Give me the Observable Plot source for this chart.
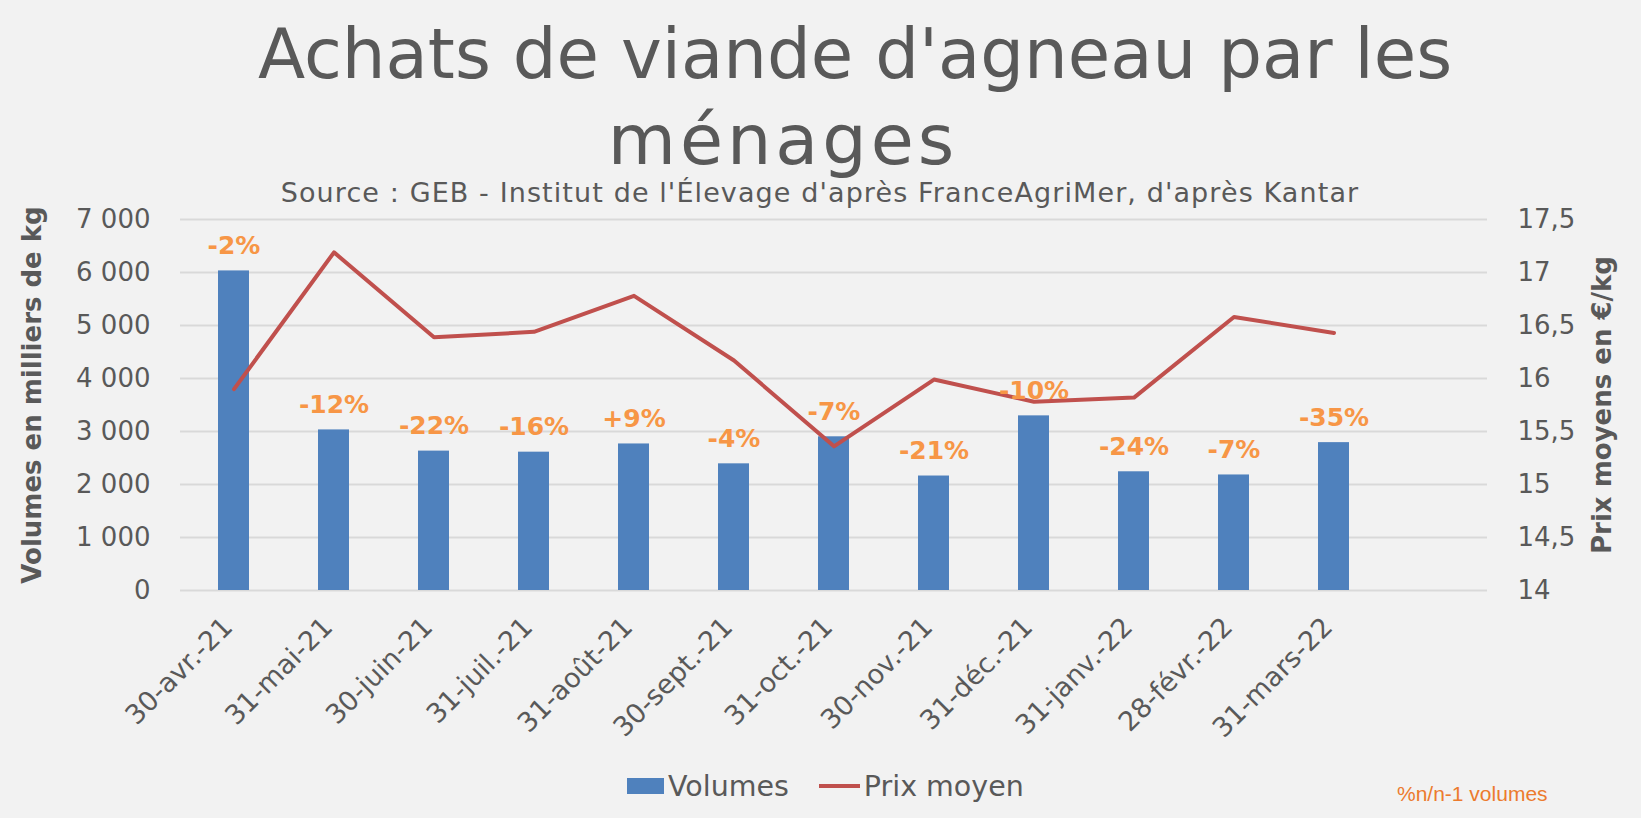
<!DOCTYPE html>
<html>
<head>
<meta charset="utf-8">
<script src="https://cdn.jsdelivr.net/npm/d3@7"></script>
<script src="https://cdn.jsdelivr.net/npm/@observablehq/plot@0.6"></script>
<style>
html, body { margin: 0; padding: 0; background: #f2f2f2; }
#wrap { position: relative; width: 1641px; height: 818px; overflow: hidden; background: #f2f2f2;
  font-family: "DejaVu Sans", sans-serif; color: #595959; }
.t { position: absolute; white-space: nowrap; line-height: 1; }
#title1 { left: 0; width: 1710px; top: 20px; text-align: center; font-size: 69px; }
#title2 { left: 0; width: 1566px; top: 105px; text-align: center; font-size: 70px; letter-spacing: 4px; }
#source { left: 0; width: 1640px; top: 179px; text-align: center; font-size: 27px; letter-spacing: 1.1px; }
.ytitle { position: absolute; white-space: nowrap; font-weight: bold; font-size: 26px; line-height: 1;
  transform: translate(-50%, -50%) rotate(-90deg); }
#chart { position: absolute; left: 0; top: 200px; }
#legend { position: absolute; left: 627px; top: 772px; height: 28px; display: flex; align-items: center; font-size: 28.5px; }
.sw-bar { width: 37px; height: 16px; background: #4F81BD; margin-right: 4px; }
.sw-line { width: 41px; height: 4px; background: #C0504D; margin-left: 30px; margin-right: 4px; }
#note { position: absolute; left: 1397px; top: 783px; font-family: "Liberation Sans Narrow", "Liberation Sans", sans-serif;
  font-size: 21px; color: #EC7B2E; }
</style>
</head>
<body>
<div id="wrap">
  <div class="t" id="title1">Achats de viande d'agneau par les</div>
  <div class="t" id="title2">ménages</div>
  <div class="t" id="source">Source : GEB - Institut de l'Élevage d'après FranceAgriMer, d'après Kantar</div>
  <div class="ytitle" style="left:32px; top:395px;">Volumes en milliers de kg</div>
  <div class="ytitle" style="left:1602px; top:405px;">Prix moyens en €/kg</div>
  <div id="chart"></div>
  <div id="legend"><div class="sw-bar"></div><span>Volumes</span><div class="sw-line"></div><span>Prix moyen</span></div>
  <div class="t" id="note">%n/n-1 volumes</div>
</div>
<script>
// ---- Data ----
const months = ["30-avr.-21", "31-mai-21", "30-juin-21", "31-juil.-21", "31-août-21", "30-sept.-21",
                "31-oct.-21", "30-nov.-21", "31-déc.-21", "31-janv.-22", "28-févr.-22", "31-mars-22"];
const volumes = [6030, 3030, 2630, 2610, 2765, 2390, 2900, 2160, 3295, 2240, 2180, 2790];
const prices = [15.90, 17.19, 16.39, 16.44, 16.78, 16.17, 15.36, 15.99, 15.78, 15.82, 16.58, 16.43];
const changes = ["-2%", "-12%", "-22%", "-16%", "+9%", "-4%", "-7%", "-21%", "-10%", "-24%", "-7%", "-35%"];
const volumeTicks = [0, 1000, 2000, 3000, 4000, 5000, 6000, 7000];
const priceTicks = [14, 14.5, 15, 15.5, 16, 16.5, 17, 17.5];

// ---- Build table ----
const data = months.map((m, i) => ({month: m, volume: volumes[i], price: prices[i], change: changes[i]}));

// Secondary axis mapping: price 14..17.5 onto volume 0..7000
const pMin = 14, pMax = 17.5, vMax = 7000;
const toVol = p => (p - pMin) / (pMax - pMin) * vMax;
const fromVol = v => pMin + v / vMax * (pMax - pMin);

const fmtVol = d => d3.format(",")(d).replace(/,/g, " ");
const fmtPrice = v => String(Math.round(fromVol(v) * 10) / 10).replace(".", ",");

const chart = Plot.plot({
  width: 1641,
  height: 560,
  marginTop: 19,
  marginBottom: 170,
  marginLeft: 180,
  marginRight: 154,
  style: {background: "transparent", fontFamily: "DejaVu Sans, sans-serif", color: "#595959", fontSize: "26px"},
  x: {type: "band", domain: [...months, ""], paddingInner: 0.69, paddingOuter: 0.345},
  y: {domain: [0, vMax]},
  marks: [
    Plot.ruleY(volumeTicks, {stroke: "#d9d9d9", strokeWidth: 2}),
    Plot.axisY({anchor: "left", ticks: volumeTicks, tickSize: 0, tickPadding: 30, tickFormat: fmtVol, label: null, fontSize: 26}),
    Plot.axisY({anchor: "right", ticks: priceTicks.map(toVol), tickSize: 0, tickPadding: 30, tickFormat: fmtPrice, label: null, fontSize: 26}),
    Plot.axisX({ticks: months, tickSize: 0, tickPadding: 32, tickRotate: -45, label: null, fontSize: 27, dx: -6}),
    Plot.barY(data, {x: "month", y: "volume", fill: "#4F81BD"}),
    Plot.line(data, {x: "month", y: d => toVol(d.price), stroke: "#C0504D", strokeWidth: 4}),
    Plot.text(data, {x: "month", y: "volume", text: "change", dy: -25, fill: "#F79646", fontWeight: "bold", fontSize: 25})
  ]
});
document.getElementById("chart").appendChild(chart);
</script>
</body>
</html>
